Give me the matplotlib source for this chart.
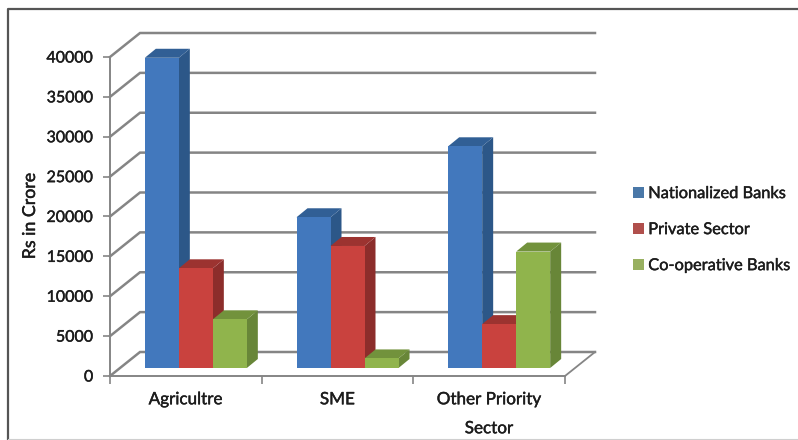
import matplotlib
matplotlib.use("Agg")
import matplotlib.pyplot as plt
import matplotlib.patheffects as pe
from matplotlib.patches import Patch, Polygon, Rectangle

categories = ["Agricultre", "SME", "Other Priority\nSector"]
series_names = ["Nationalized Banks", "Private Sector", "Co-operative Banks"]
nationalized = [38900, 18900, 27800]
private_sector = [12500, 15300, 5500]
cooperative = [6100, 1200, 14600]
y_ticks = [0, 5000, 10000, 15000, 20000, 25000, 30000, 35000, 40000]

front_colors = ["#4278bd", "#c9423e", "#90b44c"]
side_colors = ["#2c5788", "#8c2d2b", "#688638"]
top_colors = ["#315f95", "#9c3330", "#72923c"]
grid_color = "#858585"
text_color = "#1c1c1c"

W, H = 798, 440
plt.rcParams["font.family"] = ["Lato", "DejaVu Sans"]
fig = plt.figure(figsize=(W / 100, H / 100), dpi=100)
heavier = [pe.withStroke(linewidth=0.3, foreground=text_color)]

# Front plane of the pseudo-3D box, in pixels
left, right, y0, y40k = 110, 565, 376, 57
ax = fig.add_axes([left / W, 1 - y0 / H, (right - left) / W, (y0 - y40k) / H])
ax.set_xlim(0, len(categories))
ax.set_ylim(0, 40000)
ax.patch.set_visible(False)

px_x = len(categories) / (right - left)
px_y = 40000 / (y0 - y40k)


def depth(dx_px, dy_px):
    return dx_px * px_x, dy_px * px_y


# Walls and floor
wall_dx, wall_dy = depth(30, 24)
for value in y_ticks:
    ax.plot([0, wall_dx, len(categories) + wall_dx], [value, value + wall_dy, value + wall_dy],
            color=grid_color, lw=1.8, clip_on=False, zorder=1, solid_joinstyle="miter")
ax.plot([len(categories), len(categories) + wall_dx], [0, wall_dy],
        color=grid_color, lw=1.3, clip_on=False, zorder=1)

# Bars: front face, then side and top skewed backwards
bar_w = 34 * px_x
off_dx, off_dy = depth(10, 8)
bar_dx, bar_dy = depth(11, 9)
for s, values in enumerate([nationalized, private_sector, cooperative]):
    for c, v in enumerate(values):
        x0 = c + 0.5 + off_dx + (s - 1.5) * bar_w
        x1 = x0 + bar_w
        y_base, y_top = off_dy, off_dy + v
        z = 3 + c * 3 + s
        ax.add_patch(Polygon([(x1, y_base), (x1 + bar_dx, y_base + bar_dy),
                              (x1 + bar_dx, y_top + bar_dy), (x1, y_top)],
                             fc=side_colors[s], ec="none", clip_on=False, zorder=z))
        ax.add_patch(Polygon([(x0, y_top), (x1, y_top), (x1 + bar_dx, y_top + bar_dy),
                              (x0 + bar_dx, y_top + bar_dy)],
                             fc=top_colors[s], ec="none", clip_on=False, zorder=z))
        ax.add_patch(Rectangle((x0, y_base), bar_w, v, fc=front_colors[s], ec="none",
                               clip_on=False, zorder=z))

# Axes, ticks and labels
for name in ("top", "right"):
    ax.spines[name].set_visible(False)
for name in ("left", "bottom"):
    ax.spines[name].set_color(grid_color)
    ax.spines[name].set_linewidth(1.4)
ax.set_yticks(y_ticks)
ax.tick_params(axis="y", length=5, width=1.2, color=grid_color, pad=7, labelsize=11.5)
ax.set_xticks(range(len(categories) + 1))
ax.set_xticklabels([])
ax.tick_params(axis="x", which="major", length=6, width=1.2, color=grid_color)
ax.set_xticks([c + 0.5 for c in range(len(categories))], minor=True)
ax.set_xticklabels(categories, minor=True, fontsize=12.3, color=text_color, linespacing=2.0)
ax.tick_params(axis="x", which="minor", length=0, pad=11)
for label in ax.get_yticklabels() + ax.get_xticklabels(minor=True):
    label.set_color(text_color)
    label.set_path_effects(heavier)
fig.text(30 / W, 1 - 216 / H, "Rs in Crore", rotation=90, ha="center", va="center",
         fontsize=12.8, color=text_color, path_effects=heavier)

# Legend
handles = [Patch(fc=c, ec="none") for c in ["#4a78a8", "#b04f4c", "#98b060"]]
legend = fig.legend(handles, series_names, loc="center left", bbox_to_anchor=(633 / W, 1 - 230 / H),
                    frameon=False, fontsize=11.8, labelcolor=text_color, handlelength=0.65,
                    handleheight=0.65, handletextpad=0.28, labelspacing=1.33, borderpad=0,
                    borderaxespad=0)
for label in legend.get_texts():
    label.set_path_effects(heavier)

# Chart border
fig.add_artist(plt.Line2D([8 / W, 8 / W, 1], [1 - 440 / H, 1 - 9 / H, 1 - 9 / H],
                          color="#555555", lw=1.6))
fig.add_artist(plt.Line2D([8 / W, 1], [1 - 439 / H, 1 - 439 / H], color="#cfcfcf", lw=0.8))

fig.savefig("out.png", dpi=100, facecolor="white")
